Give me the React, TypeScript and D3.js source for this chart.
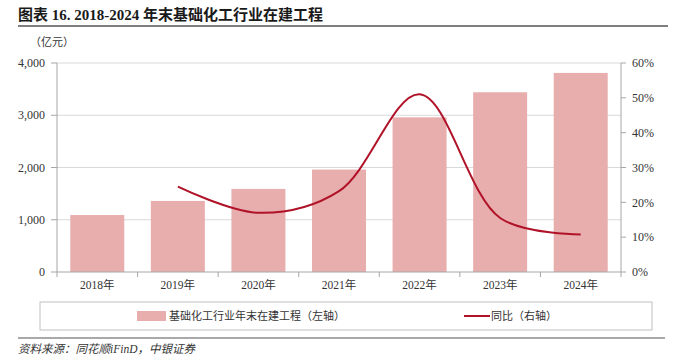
import * as d3 from 'd3';
import React from 'react';

const years = ['2018年', '2019年', '2020年', '2021年', '2022年', '2023年', '2024年'];
const wipValues = [1090, 1360, 1590, 1960, 2960, 3440, 3810];
const yoyYears = ['2019年', '2020年', '2021年', '2022年', '2023年', '2024年'];
const yoyValues = [24.5, 17.0, 23.2, 51.0, 15.5, 10.8];
const leftTicks = [0, 1000, 2000, 3000, 4000];
const rightTicks = [0, 10, 20, 30, 40, 50, 60];

const W = 679;
const H = 364;
const serif = '"Liberation Serif", "Times New Roman", "Noto Sans CJK SC", serif';
const cjk = '"Liberation Serif", "Noto Sans CJK SC", serif';

const App = () => {
  const margin = { left: 57, right: 58, top: 63, bottom: 92 };
  const plotW = W - margin.left - margin.right;
  const plotH = H - margin.top - margin.bottom;

  const x = d3.scaleBand().domain(years).range([0, plotW]).paddingInner(0.33).paddingOuter(0.165);
  const xb = d3.scaleBand().domain(years).range([0, plotW]);
  const yL = d3.scaleLinear().domain([0, 4000]).range([plotH, 0]);
  const yR = d3.scaleLinear().domain([0, 60]).range([plotH, 0]);

  // smoothed line like the spreadsheet's
  const line = d3
    .line<number>()
    .x((d, i) => xb(yoyYears[i])! + xb.bandwidth() / 2)
    .y((d) => yR(d))
    .curve(d3.curveCatmullRom.alpha(0.5));

  const fmt = d3.format(',');
  const axisColor = '#a6a6a6';

  return (
    <div style={{ position: 'absolute', left: 0, top: 0 }}>
      <svg width={W} height={H} style={{ display: 'block', background: '#fff' }}>
        <text x={18} y={20} fontFamily={serif} fontWeight="bold" fontSize={15} fill="#1a1a1a">
          图表 16. 2018-2024 年末基础化工行业在建工程
        </text>
        <line x1={18} x2={668} y1={26} y2={26} stroke="#555" strokeWidth={1.5} />
        <text x={30} y={46} fontFamily={cjk} fontSize={11} fill="#333">
          （亿元）
        </text>

        <g transform={`translate(${margin.left},${margin.top})`}>
          {leftTicks.map((t) => (
            <g key={t}>
              {t > 0 && <line x1={0} x2={plotW} y1={yL(t)} y2={yL(t)} stroke="#d9d9d9" strokeWidth={1} />}
              <line x1={-6} x2={0} y1={yL(t)} y2={yL(t)} stroke={axisColor} />
              <text x={-12} y={yL(t)} dy="0.35em" textAnchor="end" fontFamily={serif} fontSize={12} fill="#333">
                {fmt(t)}
              </text>
            </g>
          ))}

          {years.map((yr, i) => (
            <rect key={yr} x={x(yr)} y={yL(wipValues[i])} width={x.bandwidth()} height={plotH - yL(wipValues[i])} fill="#e8adad" />
          ))}

          <path d={line(yoyValues) || ''} fill="none" stroke="#b01228" strokeWidth={2} />

          <line x1={0} x2={0} y1={0} y2={plotH} stroke={axisColor} />
          <line x1={plotW} x2={plotW} y1={0} y2={plotH} stroke={axisColor} />
          <line x1={0} x2={plotW} y1={plotH} y2={plotH} stroke={axisColor} />

          {years.map((yr, i) => (
            <g key={yr}>
              <line x1={xb(yr)!} x2={xb(yr)!} y1={plotH} y2={plotH + 5} stroke={axisColor} />
              <text x={xb(yr)! + xb.bandwidth() / 2} y={plotH + 17} textAnchor="middle" fontFamily={cjk} fontSize={11.5} fill="#333">
                {yr}
              </text>
            </g>
          ))}
          <line x1={plotW} x2={plotW} y1={plotH} y2={plotH + 5} stroke={axisColor} />

          {rightTicks.map((t) => (
            <g key={t}>
              <line x1={plotW} x2={plotW + 5} y1={yR(t)} y2={yR(t)} stroke={axisColor} />
              <text x={plotW + 11} y={yR(t)} dy="0.35em" fontFamily={serif} fontSize={12} fill="#333">
                {t}%
              </text>
            </g>
          ))}
        </g>

        <rect x={40} y={302} width={612} height={28} fill="none" stroke="#bfbfbf" />
        <rect x={137} y={311} width={29} height={10} fill="#e8adad" />
        <text x={169} y={320} fontFamily={cjk} fontSize={11} fill="#333">
          基础化工行业年末在建工程（左轴）
        </text>
        <line x1={464} x2={490} y1={316} y2={316} stroke="#b01228" strokeWidth={2} />
        <text x={491} y={320} fontFamily={cjk} fontSize={11} fill="#333">
          同比（右轴）
        </text>

        <line x1={18} x2={665} y1={338} y2={338} stroke="#555" strokeWidth={1.2} />
        <text x={18} y={353} fontFamily={cjk} fontStyle="italic" fontSize={11.5} fill="#333">
          资料来源：同花顺iFinD，中银证券
        </text>
      </svg>
    </div>
  );
};

export default App;
